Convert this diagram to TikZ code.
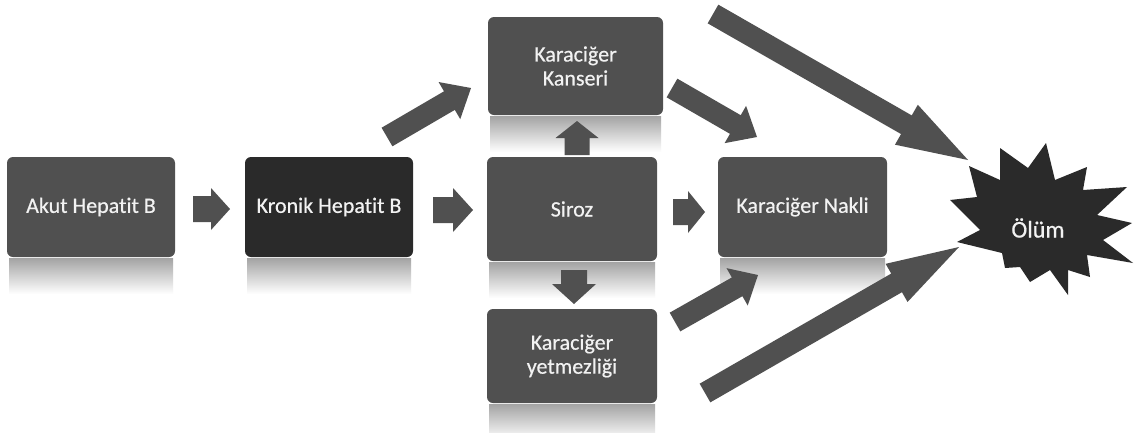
\documentclass[tikz,border=0pt]{standalone}
\usepackage{fontspec}
\setmainfont{Carlito}[Ligatures=NoCommon, FakeBold=0.5]
\usetikzlibrary{calc}
\definecolor{boxgray}{HTML}{505050}
\definecolor{boxdark}{HTML}{2A2A2A}
\definecolor{txt}{HTML}{F2F2F2}
\tikzset{
  box/.style={rectangle, rounded corners=6pt, fill=boxgray, text=txt, align=center,
    inner sep=2pt, font=\fontsize{22}{24}\selectfont},
  darkbox/.style={box, fill=boxdark},
  reflect/.style={top color=black!36, bottom color=white, draw=none},
  arrowfill/.style={fill=boxgray},
  starfill/.style={fill=boxdark}
}
\newcommand\blockarrow[5]{%
  \path ($(#2)!#5!(#1)$) coordinate (hb);
  \fill[arrowfill] ($(#1)!#3!90:(#2)$) -- ($(hb)!#3!90:(#2)$) -- ($(hb)!#4!90:(#2)$) -- (#2)
    -- ($(hb)!#4!-90:(#2)$) -- ($(hb)!#3!-90:(#2)$) -- ($(#1)!#3!-90:(#2)$) -- cycle;
}
\begin{document}
\begin{tikzpicture}[x=1pt,y=-1pt]
\useasboundingbox[fill=white] (0,0) rectangle (1139,432);
% reflections
\foreach \xa/\xb/\yb in {7/175/258, 245/413/258, 488/663/116, 487/657/262, 487/657/404, 718/887/258}{
  \shade[reflect] (\xa+2,\yb) rectangle (\xb-2,\yb+36);
}
% arrow end points
\coordinate (a1t) at (193,209); \coordinate (a1h) at (230,209);
\coordinate (a2t) at (433,210); \coordinate (a2h) at (473,210);
\coordinate (a3t) at (673,212); \coordinate (a3h) at (705,212);
\coordinate (a4t) at (577,155); \coordinate (a4h) at (577,121);
\coordinate (a5t) at (574,270); \coordinate (a5h) at (574,304);
\coordinate (a6t) at (387,137); \coordinate (a6h) at (471,88);
\coordinate (a7t) at (672,88);  \coordinate (a7h) at (757,137);
\coordinate (a8t) at (675,322); \coordinate (a8h) at (758,275);
\coordinate (a9t) at (713,14);  \coordinate (a9h) at (968,160);
\coordinate (a10t) at (705,393); \coordinate (a10h) at (959,247);
\blockarrow{a1t}{a1h}{13pt}{21pt}{19pt}
\blockarrow{a2t}{a2h}{13pt}{22pt}{20pt}
\blockarrow{a3t}{a3h}{13pt}{21pt}{17pt}
\blockarrow{a4t}{a4h}{12.5pt}{21.5pt}{17pt}
\blockarrow{a5t}{a5h}{13pt}{22pt}{20pt}
\blockarrow{a6t}{a6h}{10.75pt}{21.5pt}{25pt}
\blockarrow{a7t}{a7h}{10.75pt}{21.5pt}{25pt}
\blockarrow{a8t}{a8h}{10.75pt}{21.5pt}{24pt}
\blockarrow{a9t}{a9h}{10.75pt}{23pt}{71pt}
\blockarrow{a10t}{a10h}{10.75pt}{22pt}{72pt}
% boxes
\node[box, minimum width=168pt, minimum height=100pt] (akut) at (91,207) {Akut Hepatit B};
\node[darkbox, minimum width=168pt, minimum height=100pt] (kronik) at (329,207) {Kronik Hepatit B};
\node[box, minimum width=175pt, minimum height=98pt] (kanser) at (575.5,66) {Karaciğer\\Kanseri};
\node[box, minimum width=170pt, minimum height=104pt] (siroz) at (572,209) {Siroz};
\node[box, minimum width=170pt, minimum height=94pt] (yetmez) at (572,356) {Karaciğer\\yetmezliği};
\node[box, minimum width=169pt, minimum height=100pt] (nakli) at (802.5,207) {Karaciğer Nakli};
% star
\fill[starfill] (969,166) -- (1000,180) -- (1000,148) -- (1028,168) -- (1046,143) -- (1055,180)
  -- (1087,167) -- (1083,190) -- (1127,187) -- (1097,215) -- (1132,223) -- (1103,240)
  -- (1133,263) -- (1087,255) -- (1090,277) -- (1068,270) -- (1068,295) -- (1050,270)
  -- (1030,282) -- (1020,267) -- (1005,268) -- (1002,253) -- (957,242) -- (980,230)
  -- (950,200) -- (977,197) -- cycle;
\node[text=txt, font=\fontsize{24}{26}\selectfont] (olum) at (1038,228) {Ölüm};
\end{tikzpicture}
\end{document}
